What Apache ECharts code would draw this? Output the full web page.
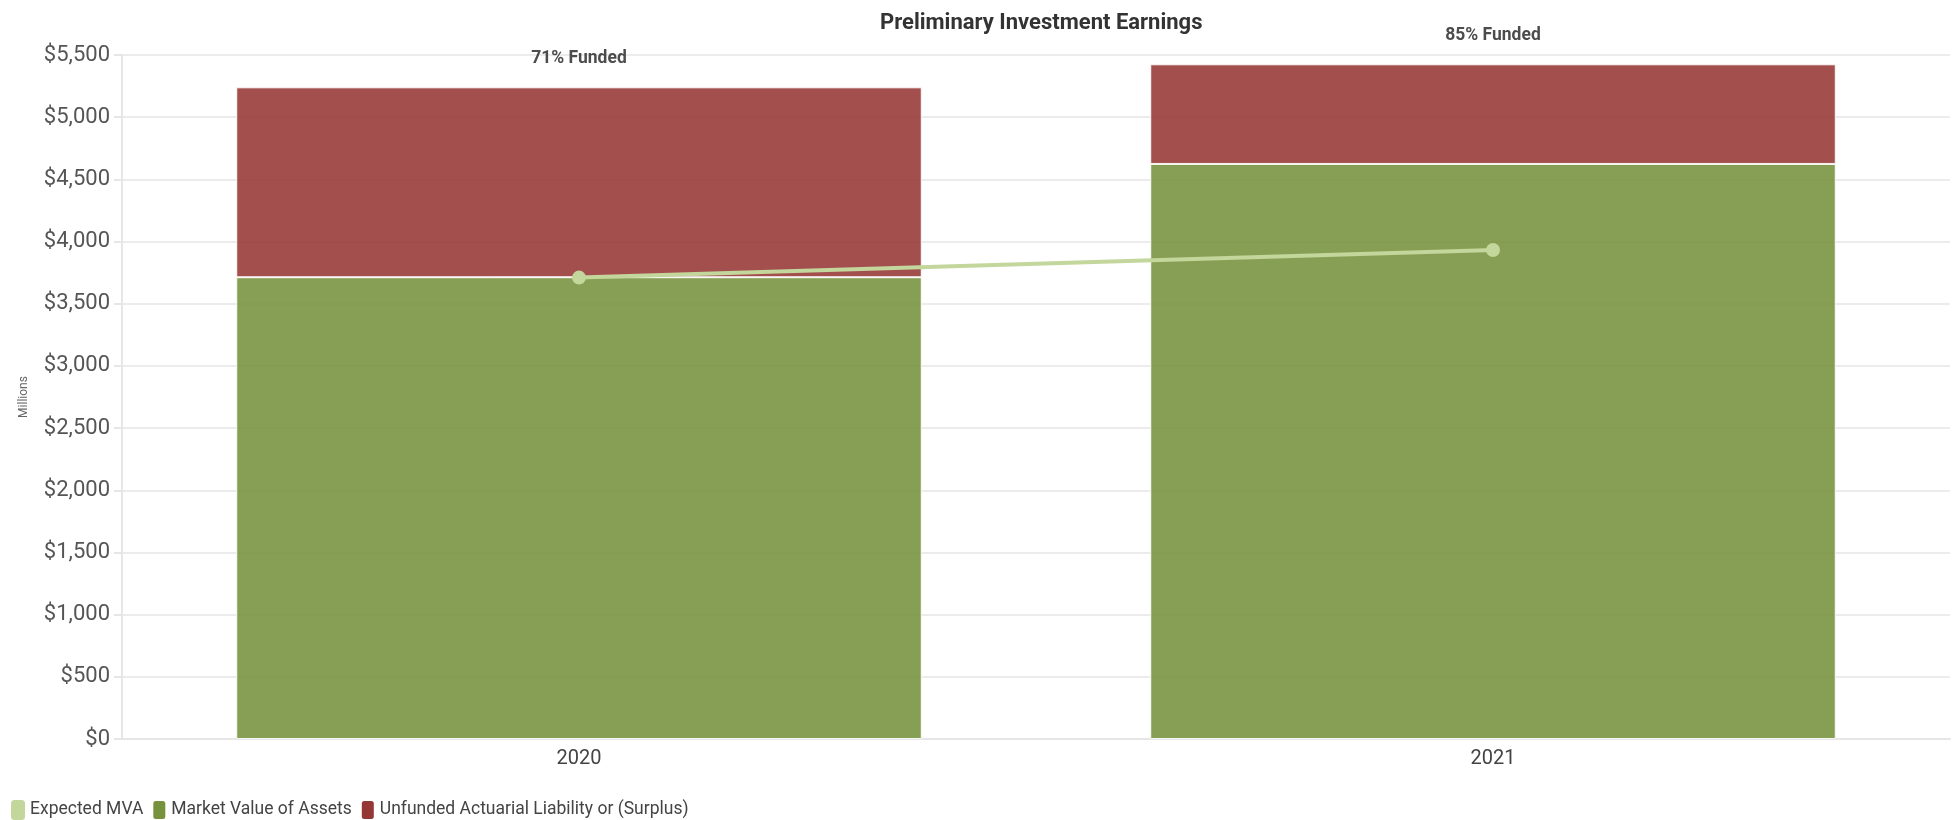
<!DOCTYPE html>
<html>
<head>
<meta charset="utf-8">
<script src="https://cdn.jsdelivr.net/npm/echarts@6/dist/echarts.min.js"></script>
<style>
  html, body { margin: 0; padding: 0; background: #fff; }
  #chart { width: 1960px; height: 820px; }
</style>
</head>
<body>
<div id="chart"></div>
<script>
const years = ['2020', '2021']
const marketValue = [3713, 4624]
const unfunded = [1527, 801]
const expectedMva = [3710, 3932]
const fundedLabels = ['71% Funded', '85% Funded']

const font = "Roboto, 'Liberation Sans', sans-serif"

const chart = echarts.init(document.getElementById('chart'))

chart.setOption({
    animation: false,
    textStyle: { fontFamily: font },
    title: {
        // centred over the plot area, not the whole canvas
        text: 'Preliminary Investment Earnings',
        left: 875,
        top: 7,
        textStyle: { fontFamily: font, fontSize: 22, fontWeight: 'bold', color: '#333' }
    },
    grid: { left: 122, right: 10, top: 55, bottom: 81 },
    legend: {
        left: 6,
        top: 794,
        itemWidth: 14,
        itemHeight: 20,
        itemGap: 8,
        textStyle: { fontFamily: font, fontSize: 17.5, color: '#444' },
        data: [
            { name: 'Expected MVA', icon: 'roundRect', itemStyle: { color: '#c3d69b' } },
            { name: 'Market Value of Assets', icon: 'roundRect', itemStyle: { color: '#76923c', opacity: 1 } },
            { name: 'Unfunded Actuarial Liability or (Surplus)', icon: 'roundRect', itemStyle: { color: '#953735', opacity: 1 } }
        ]
    },
    xAxis: {
        type: 'category',
        data: years,
        axisLine: { lineStyle: { color: '#e6e6e6', width: 2 } },
        axisTick: { show: false },
        axisLabel: { fontFamily: font, fontSize: 20, color: '#444', margin: 10 }
    },
    yAxis: {
        type: 'value',
        min: 0,
        max: 5500,
        interval: 500,
        name: 'Millions',
        nameLocation: 'middle',
        nameGap: 92,
        nameTextStyle: { fontFamily: font, fontSize: 12, color: '#666' },
        axisLine: { show: true, lineStyle: { color: '#e6e6e6', width: 2 } },
        axisTick: { show: true, length: 8, lineStyle: { color: '#e6e6e6', width: 2 } },
        splitLine: { lineStyle: { color: '#e6e6e6', width: 1.5 } },
        axisLabel: {
            fontFamily: font,
            fontSize: 22,
            color: '#555',
            margin: 12,
            formatter: v => '$' + v.toLocaleString('en-US')
        }
    },
    series: [
        {
            name: 'Market Value of Assets',
            type: 'bar',
            stack: 'total',
            barWidth: '75%',
            data: marketValue,
            itemStyle: { color: '#76923c', opacity: 0.88, borderColor: '#fff', borderWidth: 1 }
        },
        {
            name: 'Unfunded Actuarial Liability or (Surplus)',
            type: 'bar',
            stack: 'total',
            barWidth: '75%',
            data: unfunded,
            itemStyle: { color: '#953735', opacity: 0.88, borderColor: '#fff', borderWidth: 1 },
            label: {
                show: true,
                position: 'top',
                distance: 20,
                fontFamily: font,
                fontSize: 17.5,
                fontWeight: 'bold',
                color: '#333',
                formatter: p => fundedLabels[p.dataIndex]
            }
        },
        {
            name: 'Expected MVA',
            type: 'line',
            data: expectedMva,
            symbol: 'circle',
            symbolSize: 14,
            z: 5,
            lineStyle: { color: '#c3d69b', width: 4 },
            itemStyle: { color: '#c3d69b' }
        }
    ]
})
</script>
</body>
</html>
